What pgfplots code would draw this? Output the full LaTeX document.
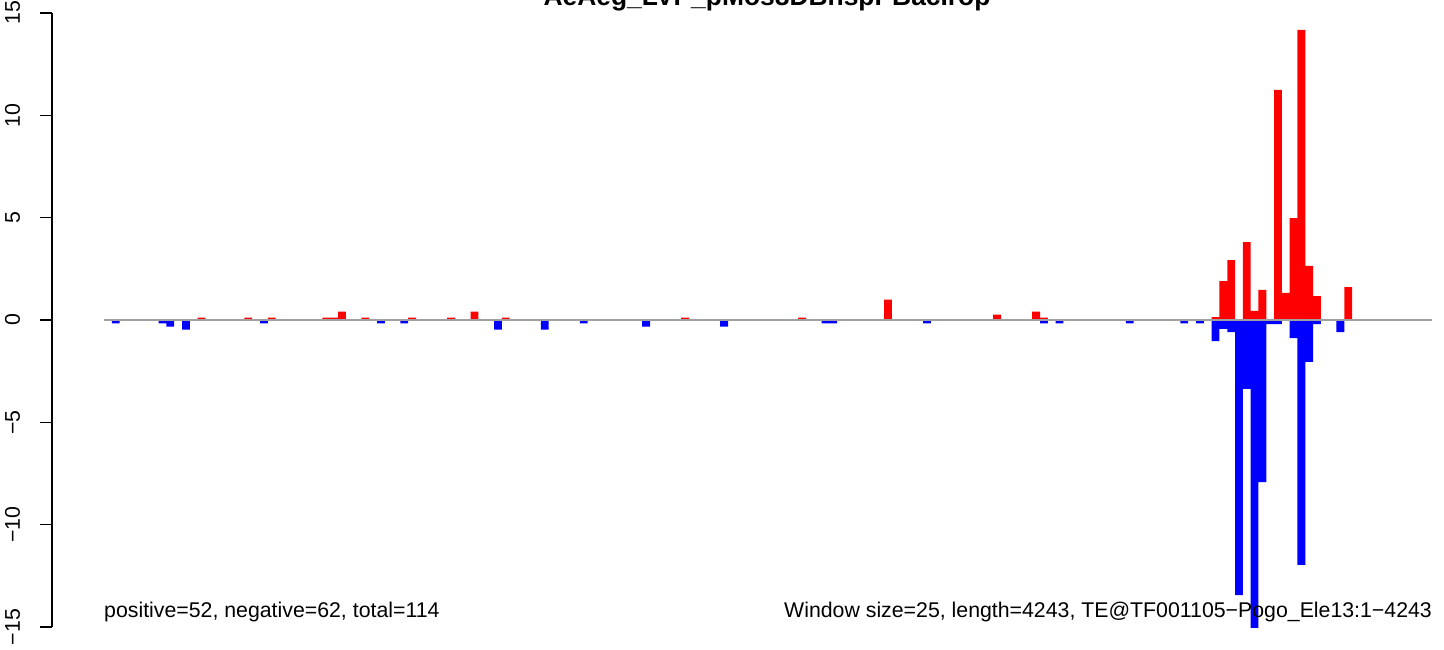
\documentclass[border=0pt]{standalone}
\usepackage{pgfplots}
\usepackage{pgfplotstable}
\pgfplotsset{compat=1.18}
\usepackage{fontspec}
\setmainfont{Liberation Sans}
\definecolor{zeroline}{RGB}{160,160,160}

% window index + 0.5, value
\pgfplotstableread{
x y
12.5 0.12
18.5 0.12
21.5 0.12
28.5 0.12
29.5 0.12
30.5 0.41
33.5 0.12
39.5 0.12
44.5 0.12
47.5 0.41
51.5 0.12
74.5 0.12
89.5 0.12
100.5 1.00
114.5 0.26
119.5 0.41
120.5 0.12
142.5 0.14
143.5 1.90
144.5 2.93
146.5 3.81
147.5 0.44
148.5 1.47
150.5 11.24
151.5 1.32
152.5 4.98
153.5 14.17
154.5 2.64
155.5 1.17
159.5 1.61
}\posdata

\pgfplotstableread{
x y
1.5 -0.16
7.5 -0.16
8.5 -0.33
10.5 -0.47
20.5 -0.16
35.5 -0.16
38.5 -0.16
50.5 -0.47
56.5 -0.47
61.5 -0.16
69.5 -0.33
79.5 -0.33
92.5 -0.16
93.5 -0.16
105.5 -0.16
120.5 -0.16
122.5 -0.16
131.5 -0.16
138.5 -0.16
140.5 -0.16
142.5 -1.03
143.5 -0.44
144.5 -0.59
145.5 -13.44
146.5 -3.37
147.5 -15.5
148.5 -7.92
149.5 -0.20
150.5 -0.20
152.5 -0.88
153.5 -11.97
154.5 -2.05
155.5 -0.20
158.5 -0.59
}\negdata

\begin{document}
\fontsize{21.3}{25}\selectfont
\begin{tikzpicture}
\begin{axis}[name=ax, at={(0,0)}, anchor=south west,
  scale only axis, width=1392pt, height=614pt,
  xmin=-6.667, xmax=171.79, ymin=-15, ymax=15,
  hide x axis, axis y line*=left,
  y axis line style={line width=1.5pt, black},
  ytick={-15,-10,...,15},
  yticklabels={−15,−10,−5,0,5,10,15},
  tick align=outside, major tick length=12pt,
  every tick/.style={black, line width=1.5pt},
  yticklabel style={rotate=90, anchor=base, inner sep=0pt, yshift=20pt},
]
  \addplot[ybar, bar width=1, bar shift=0pt, fill=red, draw=none] table {\posdata};
  \addplot[ybar, bar width=1, bar shift=0pt, fill=blue, draw=none] table {\negdata};
  \addplot[zeroline, line width=1.5pt] coordinates {(0,0) (170.26,0)};
  \coordinate (lt) at (axis cs:0,-14.56);
  \coordinate (rt) at (axis cs:170.26,-14.56);
  \coordinate (tt) at (axis cs:85.0,15.38);
\end{axis}
\node[anchor=base west, inner sep=0pt] at (lt) {positive=52, negative=62, total=114};
\node[anchor=base east, inner sep=0pt] at (rt) {Window size=25, length=4243, TE@TF001105−Pogo\_Ele13:1−4243};
\node[anchor=base, inner sep=0pt, font=\bfseries\fontsize{26.4}{30}\selectfont] at (tt) {AeAeg\_LVP\_pMos8DBhspPBacIrop};
\pgfresetboundingbox
\useasboundingbox ([xshift=-52pt,yshift=-22pt]ax.south west) rectangle ([yshift=13pt]ax.north east);
\end{tikzpicture}
\end{document}
